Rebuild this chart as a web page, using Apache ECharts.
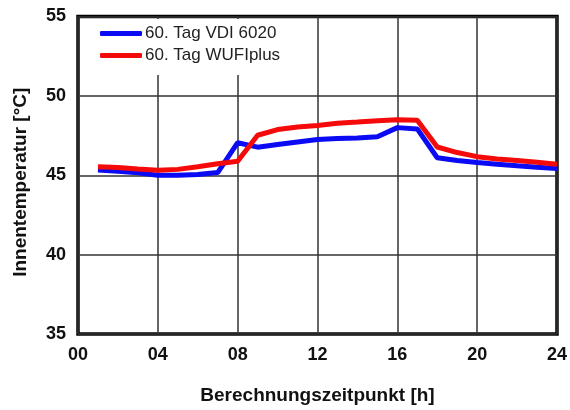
<!DOCTYPE html>
<html>
<head>
<meta charset="utf-8">
<script src="https://cdn.jsdelivr.net/npm/echarts@6/dist/echarts.min.js"></script>
<style>html,body{margin:0;padding:0;background:#fff}#c{width:570px;height:410px}</style>
</head>
<body>
<div id="c"></div>
<script>
const hours = [1,2,3,4,5,6,7,8,9,10,11,12,13,14,15,16,17,18,19,20,21,22,23,24];
const vdi6020 = [45.33,45.25,45.15,45.0,45.0,45.05,45.17,47.05,46.77,46.94,47.1,47.25,47.31,47.35,47.42,48.0,47.92,46.1,45.93,45.8,45.7,45.6,45.51,45.42];
const wufiplus = [45.54,45.49,45.4,45.32,45.37,45.54,45.72,45.88,47.52,47.88,48.04,48.14,48.27,48.35,48.44,48.5,48.46,46.78,46.43,46.17,46.03,45.93,45.82,45.7];
const seriesNames = ['60. Tag VDI 6020', '60. Tag WUFIplus'];
const xTicks = ['00','04','08','12','16','20','24'];
const xName = 'Berechnungszeitpunkt [h]';
const yName = 'Innentemperatur [°C]';

const font = '"Liberation Sans", Arial, sans-serif';
const chart = echarts.init(document.getElementById('c'), null, {renderer: 'canvas'});
chart.setOption({
  animation: false,
  grid: {left: 78, right: 12.5, top: 16.5, bottom: 73, show: true, borderColor: '#000', borderWidth: 3.5, backgroundColor: 'transparent', containLabel: false},
  legend: {
    left: 81, top: 19, orient: 'vertical',
    backgroundColor: '#fff',
    padding: [6, 12, 11, 19],
    itemGap: 5, itemWidth: 42, itemHeight: 5,
    icon: 'roundRect',
    textStyle: {fontFamily: font, fontSize: 17, color: '#222', padding: [0,0,0,-2], lineHeight: 17},
    data: seriesNames
  },
  xAxis: {
    type: 'value', min: 0, max: 24, interval: 4,
    name: xName, nameLocation: 'middle', nameGap: 52,
    nameTextStyle: {fontFamily: font, fontSize: 19, fontWeight: 'bold', color: '#111'},
    axisLine: {show: false}, axisTick: {show: false},
    axisLabel: {margin: 12, fontFamily: font, fontSize: 18, fontWeight: 'bold', color: '#111',
      formatter: v => xTicks[Math.round(v / 4)]},
    splitLine: {show: true, lineStyle: {color: '#333', width: 1.5}}
  },
  yAxis: {
    type: 'value', min: 35, max: 55, interval: 5,
    name: yName, nameLocation: 'middle', nameGap: 48,
    nameTextStyle: {fontFamily: font, fontSize: 19, fontWeight: 'bold', color: '#111', padding: [0, 14, 0, 0]},
    axisLine: {show: false}, axisTick: {show: false},
    axisLabel: {margin: 12, fontFamily: font, fontSize: 18, fontWeight: 'bold', color: '#111'},
    splitLine: {show: true, lineStyle: {color: '#333', width: 1.5}}
  },
  series: [
    {name: seriesNames[0], type: 'line', symbol: 'none', data: hours.map((h, i) => [h, vdi6020[i]]),
      lineStyle: {color: '#0a0af5', width: 5}, itemStyle: {color: '#0a0af5'}},
    {name: seriesNames[1], type: 'line', symbol: 'none', data: hours.map((h, i) => [h, wufiplus[i]]),
      lineStyle: {color: '#f50a0a', width: 5}, itemStyle: {color: '#f50a0a'}}
  ]
});
</script>
</body>
</html>
